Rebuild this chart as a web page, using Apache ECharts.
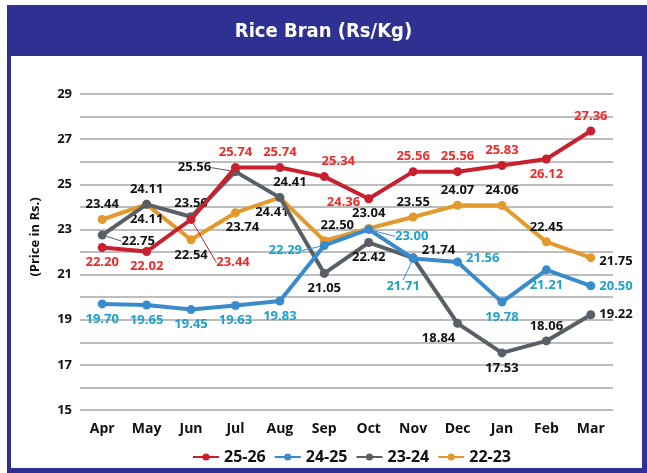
<!DOCTYPE html>
<html>
<head>
<meta charset="utf-8">
<script src="https://cdn.jsdelivr.net/npm/echarts@6/dist/echarts.min.js"></script>
<style>
    html, body { margin: 0; padding: 0; background: #fff; }
    #main { width: 647px; height: 473px; }
</style>
</head>
<body>
<div id="main"></div>
<script>
var months = ['Apr', 'May', 'Jun', 'Jul', 'Aug', 'Sep', 'Oct', 'Nov', 'Dec', 'Jan', 'Feb', 'Mar'];
var seriesNames = ['25-26', '24-25', '23-24', '22-23'];
var fy2526 = [22.20, 22.02, 23.44, 25.74, 25.74, 25.34, 24.36, 25.56, 25.56, 25.83, 26.12, 27.36];
var fy2425 = [19.70, 19.65, 19.45, 19.63, 19.83, 22.29, 23.00, 21.71, 21.56, 19.78, 21.21, 20.50];
var fy2324 = [22.75, 24.11, 23.56, 25.56, 24.41, 21.05, 22.42, 21.74, 18.84, 17.53, 18.06, 19.22];
var fy2223 = [23.44, 24.11, 22.54, 23.74, 24.41, 22.50, 23.04, 23.55, 24.07, 24.06, 22.45, 21.75];
var yTicks = [15, 17, 19, 21, 23, 25, 27, 29];

// label placement ('line' = moved away with a guide line)
var labelPos = [
    ['bottom', 'bottom', 'line', 'top', 'top', 'top', 'left', 'top', 'top', 'top', 'bottom', 'top'],
    ['bottom', 'bottom', 'bottom', 'bottom', 'bottom', 'line', 'line', 'line', 'right', 'bottom', 'bottom', 'right'],
    ['line', 'top', 'top', 'line', 'top', 'bottom', 'bottom', 'right', 'bottom', 'bottom', 'top', 'right'],
    ['top', 'bottom', 'bottom', 'bottom', 'bottom', 'top', 'top', 'top', 'top', 'top', 'top', 'right']
];
var labelShift = [
    [0, 0, [42, 43], 0, 0, [14, 0], [0, 4], 0, 0, 0, 0, 0],
    [0, 0, 0, 0, 0, [-39, 5], [43, 7], [-10, 28], [0, -4], 0, 0, 0],
    [[36, 6], 0, [0, 2], [-41, -4], [10, 0], 0, 0, [0, -8], [-19, 0], 0, 0, 0],
    [0, 0, 0, [7, 0], [-8, 0], [13, 0], 0, 0, 0, 0, 0, [0, 4]]
];

var lineColors = ['#C8202F', '#3A8BCB', '#585F66', '#E29A2C'];
var labelColors = ['#F02A2A', '#1CA2CC', '#111111', '#111111'];
var allData = [fy2526, fy2425, fy2324, fy2223];
var font = '"Open Sans", Lato, sans-serif';

var myChart = echarts.init(document.getElementById('main'));

var series = [];
for (var s = 0; s < allData.length; s++) {
    var items = [];
    for (var i = 0; i < allData[s].length; i++) {
        var p = labelPos[s][i];
        var item = {
            value: allData[s][i],
            label: { position: p == 'line' ? 'inside' : p }
        };
        if (p == 'line') {
            item.labelLine = { show: true, lineStyle: { color: lineColors[s], width: 1 } };
        }
        items.push(item);
    }
    series.push({
        name: seriesNames[s],
        type: 'line',
        data: items,
        symbol: 'circle',
        symbolSize: 9,
        color: lineColors[s],
        lineStyle: { width: 4 },
        z: 10 - s,
        label: {
            show: true,
            distance: 4,
            color: labelColors[s],
            fontSize: 13,
            fontWeight: 'bold',
            fontFamily: font,
            formatter: function (p) { return p.value.toFixed(2); }
        },
        labelLayout: (function (si) {
            return function (params) {
                var sh = labelShift[si][params.dataIndex];
                if (sh) {
                    return { dx: sh[0], dy: sh[1] };
                }
                return {};
            };
        })(s)
    });
}

var option = {
    backgroundColor: '#ffffff',
    animation: false,
    graphic: {
        elements: [
            { type: 'rect', z: -10, shape: { x: 7, y: 5, width: 640, height: 468 }, style: { fill: '#2E3192' } },
            { type: 'rect', z: -9, shape: { x: 11, y: 56, width: 631, height: 412 }, style: { fill: '#ffffff' } },
            {
                type: 'text', x: 35, y: 237, rotation: Math.PI / 2,
                style: {
                    text: '(Price in Rs.)', fill: '#111', font: 'bold 13px ' + font,
                    textAlign: 'center', textVerticalAlign: 'middle'
                }
            }
        ]
    },
    title: {
        text: 'Rice Bran (Rs/Kg)',
        left: 'center',
        top: 17,
        textStyle: {
            color: '#ffffff',
            fontSize: 20,
            fontWeight: 'bold',
            fontFamily: '"Liberation Sans Narrow", "DejaVu Sans Condensed", sans-serif'
        }
    },
    grid: { left: 80, right: 34, top: 94, bottom: 63 },
    legend: {
        data: seriesNames,
        top: 444,
        left: 187,
        itemWidth: 26,
        itemHeight: 9,
        itemGap: 8,
        textStyle: { fontSize: 16, fontWeight: 'bold', color: '#111', fontFamily: font }
    },
    xAxis: {
        type: 'category',
        data: months,
        boundaryGap: true,
        axisLine: { show: false },
        axisTick: { show: false },
        axisLabel: {
            margin: 12,
            color: '#111',
            fontSize: 14,
            fontWeight: 'bold',
            fontFamily: font
        }
    },
    yAxis: {
        type: 'value',
        min: 15,
        max: 29,
        interval: 1,
        axisLine: { show: false },
        axisTick: { show: false },
        axisLabel: {
            margin: 8,
            color: '#111',
            fontSize: 13,
            fontWeight: 'bold',
            fontFamily: font,
            formatter: function (v) { return yTicks.indexOf(v) >= 0 ? v : ''; }
        },
        splitLine: { lineStyle: { color: '#BDBDBD', width: 2 } }
    },
    series: series
};

myChart.setOption(option);
</script>
</body>
</html>
